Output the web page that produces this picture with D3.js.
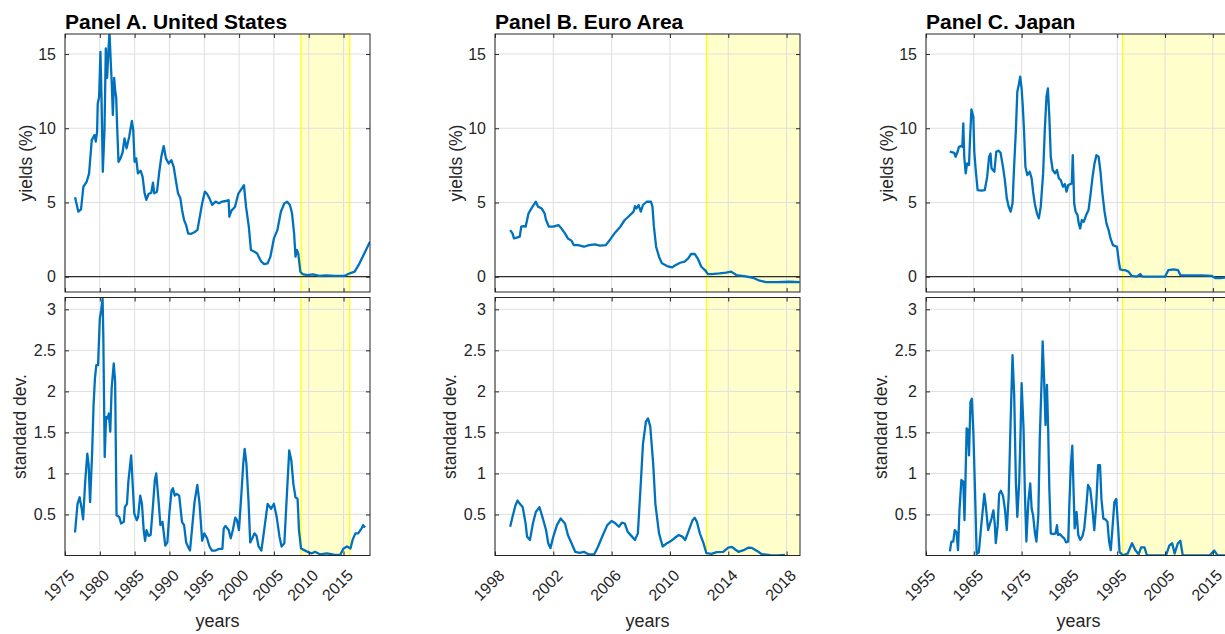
<!DOCTYPE html>
<html>
<head>
<meta charset="utf-8">
<script src="https://cdnjs.cloudflare.com/ajax/libs/d3/7.8.5/d3.min.js"></script>
<style>
body { margin: 0; background: #fff; overflow: hidden; }
text { font-family: "Liberation Sans", Arial, Helvetica, sans-serif; fill: #262626; }
</style>
</head>
<body>
<script>
// ---- data: [year, value] ----
var usYield = [
  [1976.44,5.35],[1976.92,4.38],[1977.3,4.53],[1977.64,6.06],[1978.12,6.4],[1978.46,6.96],
  [1978.84,9.2],[1979.23,9.54],[1979.42,9.1],[1979.61,9.77],[1979.7,11.67],[1979.9,12.1],
  [1980.09,15.15],[1980.24,12.1],[1980.43,7.07],[1980.67,9.87],[1980.86,15.38],[1981.05,13.4],
  [1981.24,15.27],[1981.39,16.5],[1981.58,14.36],[1981.72,13.0],[1981.87,10.9],[1982.06,13.4],
  [1982.2,12.57],[1982.35,12.1],[1982.49,10.1],[1982.68,7.74],[1982.97,7.97],[1983.26,8.35],
  [1983.55,9.32],[1983.84,8.65],[1984.22,9.43],[1984.6,10.5],[1984.8,9.88],[1984.99,7.74],
  [1985.23,7.97],[1985.47,6.96],[1985.85,7.14],[1986.14,6.74],[1986.43,5.62],[1986.67,5.18],
  [1987.0,5.57],[1987.39,5.66],[1987.63,6.33],[1987.82,5.62],[1988.21,5.73],[1988.54,7.07],
  [1988.83,8.08],[1989.17,8.8],[1989.5,7.97],[1989.89,7.63],[1990.27,7.85],[1990.61,7.4],
  [1990.95,6.4],[1991.23,5.62],[1991.57,5.28],[1991.81,4.5],[1992.1,3.81],[1992.39,3.48],
  [1992.68,2.92],[1993.06,2.88],[1993.64,3.01],[1994.02,3.15],[1994.4,4.15],[1994.69,4.93],
  [1995.08,5.73],[1995.41,5.57],[1995.75,5.28],[1996.13,4.84],[1996.61,5.06],[1997.1,4.95],
  [1997.57,5.06],[1998.05,5.1],[1998.5,5.16],[1998.6,4.04],[1998.9,4.45],[1999.4,4.7],
  [1999.9,5.6],[2000.4,5.95],[2000.7,6.17],[2001.0,4.7],[2001.4,3.36],[2001.7,1.8],
  [2002.2,1.68],[2002.6,1.57],[2002.8,1.35],[2003.2,1.01],[2003.6,0.85],[2004.1,0.9],
  [2004.5,1.35],[2005.0,2.58],[2005.5,3.14],[2006.0,4.38],[2006.5,4.94],[2006.9,5.05],
  [2007.3,4.83],[2007.6,4.27],[2007.9,2.92],[2008.1,1.35],[2008.3,1.8],[2008.5,1.57],
  [2008.8,0.34],[2009.1,0.18],[2009.8,0.11],[2010.6,0.16],[2011.5,0.05],[2012.5,0.09],
  [2013.7,0.05],[2015.1,0.05],[2015.9,0.23],[2016.6,0.34],[2017.3,0.9],[2018.1,1.68],[2018.8,2.36]
];
var usSd = [
  [1976.44,0.28],[1976.8,0.63],[1977.1,0.71],[1977.4,0.57],[1977.6,0.44],[1977.9,0.9],
  [1978.2,1.24],[1978.4,1.1],[1978.6,0.65],[1978.9,1.26],[1979.1,1.83],[1979.3,2.16],
  [1979.5,2.32],[1979.75,2.32],[1980.0,2.89],[1980.2,2.99],[1980.4,3.13],[1980.5,2.69],
  [1980.7,1.2],[1980.9,1.69],[1981.1,1.67],[1981.3,1.73],[1981.5,1.51],[1981.7,2.04],
  [1982.0,2.34],[1982.2,2.12],[1982.4,0.49],[1982.8,0.47],[1983.05,0.39],[1983.45,0.41],
  [1983.6,0.59],[1983.9,0.63],[1984.1,0.9],[1984.5,1.22],[1984.75,0.82],[1984.95,0.51],
  [1985.3,0.43],[1985.5,0.47],[1985.8,0.73],[1986.05,0.63],[1986.3,0.31],[1986.5,0.18],
  [1986.7,0.31],[1987.0,0.24],[1987.3,0.25],[1987.6,0.57],[1987.9,0.92],[1988.1,1.0],
  [1988.45,0.65],[1988.7,0.37],[1989.0,0.41],[1989.4,0.12],[1989.7,0.16],[1990.0,0.53],
  [1990.3,0.79],[1990.5,0.82],[1990.75,0.73],[1991.05,0.75],[1991.4,0.73],[1991.8,0.41],
  [1992.1,0.37],[1992.4,0.16],[1992.7,0.1],[1992.95,0.06],[1993.25,0.33],[1993.6,0.65],
  [1994.0,0.86],[1994.3,0.65],[1994.7,0.18],[1995.0,0.27],[1995.4,0.21],[1995.75,0.11],
  [1996.1,0.06],[1996.6,0.06],[1997.1,0.08],[1997.6,0.08],[1997.8,0.33],[1998.05,0.36],
  [1998.5,0.31],[1998.8,0.21],[1999.1,0.31],[1999.45,0.46],[1999.7,0.43],[1999.98,0.31],
  [2000.3,0.71],[2000.6,1.12],[2000.8,1.3],[2001.05,1.12],[2001.35,0.67],[2001.6,0.16],
  [2001.9,0.21],[2002.2,0.27],[2002.5,0.24],[2002.8,0.11],[2003.2,0.06],[2003.6,0.31],
  [2004.1,0.63],[2004.6,0.57],[2005.0,0.63],[2005.4,0.47],[2005.8,0.23],[2006.1,0.11],
  [2006.5,0.15],[2006.9,0.8],[2007.2,1.28],[2007.5,1.16],[2007.8,0.87],[2008.1,0.71],
  [2008.4,0.69],[2008.6,0.31],[2008.9,0.085],[2009.7,0.05],[2010.4,0.025],[2010.9,0.045],
  [2011.6,0.015],[2012.6,0.025],[2013.6,0.01],[2014.5,0.005],[2015.0,0.085],[2015.5,0.11],
  [2016.0,0.085],[2016.3,0.19],[2016.7,0.27],[2017.1,0.27],[2017.6,0.33],[2017.8,0.37],[2018.1,0.34]
];
var euYield = [
  [1999.04,3.14],[1999.2,2.92],[1999.3,2.58],[1999.55,2.65],[1999.7,2.7],[1999.8,3.37],
  [1999.95,3.41],[2000.1,3.37],[2000.3,4.27],[2000.5,4.6],[2000.8,5.05],[2000.95,4.72],
  [2001.2,4.6],[2001.4,4.27],[2001.5,3.82],[2001.7,3.37],[2002.0,3.37],[2002.35,3.48],
  [2002.55,3.26],[2002.8,2.92],[2003.0,2.58],[2003.25,2.43],[2003.4,2.13],[2003.7,2.13],
  [2004.1,2.02],[2004.45,2.13],[2004.85,2.18],[2005.2,2.09],[2005.6,2.13],[2005.9,2.51],
  [2006.2,2.92],[2006.6,3.37],[2006.9,3.82],[2007.2,4.09],[2007.5,4.38],[2007.6,4.76],
  [2007.7,4.6],[2007.85,4.83],[2008.0,4.38],[2008.15,4.83],[2008.4,5.05],[2008.7,5.05],
  [2008.8,4.72],[2008.9,3.37],[2009.05,2.02],[2009.25,1.35],[2009.45,0.9],[2009.8,0.72],
  [2010.15,0.63],[2010.4,0.79],[2010.7,0.94],[2011.0,1.01],[2011.25,1.24],[2011.45,1.53],
  [2011.7,1.53],[2011.9,1.24],[2012.15,0.67],[2012.4,0.45],[2012.6,0.18],[2012.85,0.18],
  [2013.4,0.22],[2013.85,0.27],[2014.2,0.34],[2014.55,0.11],[2015.1,0.045],[2015.7,-0.07],
  [2016.15,-0.27],[2016.6,-0.36],[2017.3,-0.36],[2018.2,-0.34],[2018.9,-0.36]
];
var euSd = [
  [1999.04,0.35],[1999.2,0.47],[1999.4,0.61],[1999.55,0.67],[1999.7,0.63],[1999.9,0.59],
  [2000.1,0.39],[2000.2,0.23],[2000.4,0.19],[2000.6,0.39],[2000.8,0.53],[2001.05,0.59],
  [2001.25,0.47],[2001.5,0.31],[2001.65,0.15],[2001.8,0.09],[2002.0,0.23],[2002.25,0.37],
  [2002.5,0.45],[2002.8,0.39],[2003.0,0.25],[2003.25,0.15],[2003.5,0.045],[2003.8,0.033],
  [2004.1,0.045],[2004.4,0.016],[2004.8,0.012],[2005.05,0.1],[2005.4,0.25],[2005.7,0.37],
  [2006.0,0.42],[2006.2,0.4],[2006.5,0.35],[2006.7,0.4],[2006.9,0.39],[2007.1,0.29],
  [2007.4,0.23],[2007.6,0.19],[2007.8,0.27],[2008.0,0.88],[2008.15,1.36],[2008.35,1.63],
  [2008.5,1.67],[2008.65,1.57],[2008.85,1.12],[2009.0,0.63],[2009.25,0.27],[2009.5,0.11],
  [2009.8,0.15],[2010.1,0.18],[2010.3,0.21],[2010.6,0.25],[2010.85,0.23],[2011.05,0.19],
  [2011.3,0.31],[2011.55,0.43],[2011.7,0.46],[2011.85,0.41],[2012.05,0.27],[2012.3,0.15],
  [2012.5,0.028],[2012.85,0.02],[2013.2,0.04],[2013.65,0.045],[2014.0,0.097],[2014.25,0.105],
  [2014.5,0.07],[2014.7,0.045],[2015.05,0.065],[2015.4,0.097],[2015.6,0.093],[2016.0,0.053],
  [2016.3,0.016],[2016.9,0.004],[2017.4,0.0],[2017.9,0.008]
];
var jpYield = [
  [1959.98,8.42],[1960.9,8.35],[1961.2,8.08],[1961.6,8.42],[1961.9,8.75],[1962.3,8.8],
  [1962.6,8.75],[1962.8,10.33],[1963.0,8.08],[1963.3,6.96],[1963.6,7.63],[1964.0,7.52],
  [1964.2,9.2],[1964.5,11.27],[1964.9,10.78],[1965.1,8.42],[1965.4,7.19],[1965.8,5.84],
  [1966.6,5.8],[1967.3,5.84],[1967.8,6.74],[1968.2,8.08],[1968.5,8.3],[1968.7,7.3],
  [1969.3,7.07],[1969.7,8.42],[1970.2,8.49],[1970.6,8.35],[1971.1,7.4],[1971.5,6.51],
  [1971.9,5.28],[1972.3,4.71],[1972.7,4.38],[1973.1,4.93],[1973.4,7.19],[1973.8,9.88],
  [1974.1,12.46],[1974.4,12.91],[1974.7,13.47],[1975.0,12.68],[1975.25,11.45],[1975.5,9.88],
  [1975.8,7.4],[1976.2,6.84],[1976.7,7.07],[1977.1,6.62],[1977.4,5.73],[1977.75,4.93],
  [1978.2,4.27],[1978.6,3.93],[1979.0,4.72],[1979.5,6.96],[1979.85,9.88],[1980.2,12.12],
  [1980.5,12.68],[1980.8,10.78],[1981.1,8.08],[1981.5,7.19],[1982.0,6.96],[1982.4,7.19],
  [1982.8,6.62],[1983.2,6.51],[1983.65,6.06],[1984.05,6.24],[1984.4,5.73],[1984.75,6.17],
  [1985.2,6.24],[1985.5,6.28],[1985.7,8.19],[1986.0,4.93],[1986.3,4.38],[1986.7,4.15],
  [1986.95,3.59],[1987.25,3.25],[1987.6,3.82],[1988.0,3.7],[1988.5,4.15],[1989.0,4.49],
  [1989.4,5.5],[1989.85,6.74],[1990.25,7.63],[1990.65,8.19],[1991.1,8.08],[1991.5,7.07],
  [1991.9,5.62],[1992.35,4.38],[1992.75,3.59],[1993.2,3.14],[1993.6,2.58],[1994.1,2.13],
  [1994.6,2.06],[1994.95,2.02],[1995.3,1.12],[1995.6,0.5],[1996.2,0.45],[1996.6,0.45],
  [1997.35,0.34],[1998.05,0.05],[1999.1,0.0],[1999.8,0.18],[2000.3,0.0],[2001.5,0.0],
  [2005.0,0.0],[2005.7,0.45],[2006.8,0.5],[2007.7,0.45],[2008.2,0.11],[2009.9,0.09],
  [2012.7,0.09],[2014.8,0.05],[2015.5,-0.09],[2016.6,-0.09],[2017.6,-0.06],[2018.8,-0.06]
];
var jpSd = [
  [1960.0,0.05],[1960.3,0.17],[1960.7,0.17],[1961.0,0.31],[1961.4,0.28],[1961.7,0.065],
  [1962.0,0.55],[1962.4,0.92],[1962.8,0.9],[1963.05,0.43],[1963.25,0.9],[1963.5,1.55],
  [1963.8,1.53],[1964.0,1.22],[1964.3,1.87],[1964.6,1.91],[1964.9,1.51],[1965.2,0.9],
  [1965.6,0.02],[1966.05,0.04],[1966.5,0.33],[1966.8,0.51],[1967.2,0.75],[1967.5,0.61],
  [1968.0,0.31],[1968.3,0.37],[1968.7,0.45],[1969.1,0.55],[1969.4,0.37],[1969.6,0.15],
  [1970.0,0.37],[1970.3,0.75],[1970.65,0.79],[1971.1,0.73],[1971.5,0.57],[1971.9,0.31],
  [1972.3,0.73],[1972.7,1.63],[1973.1,2.44],[1973.45,1.95],[1973.8,0.9],[1974.1,0.47],
  [1974.5,0.9],[1974.8,1.55],[1975.0,2.1],[1975.4,1.55],[1975.7,0.73],[1976.0,0.17],
  [1976.4,0.65],[1976.8,0.88],[1977.1,0.57],[1977.4,0.49],[1977.8,0.27],[1978.1,0.17],
  [1978.5,0.49],[1978.8,1.43],[1979.2,2.16],[1979.4,2.61],[1979.7,2.16],[1980.0,1.59],
  [1980.3,2.08],[1980.55,1.55],[1980.8,0.81],[1981.1,0.27],[1981.6,0.26],[1982.1,0.27],
  [1982.4,0.37],[1982.6,0.25],[1983.05,0.26],[1983.5,0.23],[1983.9,0.21],[1984.3,0.16],
  [1984.75,0.17],[1985.0,0.65],[1985.3,1.1],[1985.6,1.34],[1985.9,0.73],[1986.1,0.33],
  [1986.5,0.53],[1986.85,0.25],[1987.25,0.19],[1987.7,0.23],[1988.1,0.33],[1988.5,0.57],
  [1988.9,0.86],[1989.35,0.81],[1989.75,0.61],[1990.2,0.31],[1990.6,0.61],[1991.0,1.1],
  [1991.4,1.1],[1991.7,0.69],[1992.1,0.45],[1992.55,0.44],[1992.95,0.41],[1993.3,0.17],
  [1993.65,0.065],[1994.0,0.33],[1994.4,0.65],[1994.8,0.69],[1995.2,0.33],[1995.5,0.04],
  [1996.2,0.003],[1997.2,0.024],[1998.1,0.15],[1998.8,0.065],[1999.5,0.016],[2000.0,0.1],
  [2000.7,0.1],[2001.2,0.003],[2003.8,0.0],[2005.2,0.0],[2005.9,0.12],[2006.5,0.15],
  [2007.0,0.024],[2007.7,0.15],[2008.2,0.18],[2008.7,0.003],[2010.8,0.0],[2014.3,0.0],
  [2015.3,0.06],[2016.0,0.0],[2018.8,0.0]
];

var titles = ["Panel A. United States", "Panel B. Euro Area", "Panel C. Japan"];
var xDomains = [[1975, 2018.8], [1998, 2018.92], [1955, 2018.8]];
var xTicks = [d3.range(1975, 2016, 5), d3.range(1998, 2019, 4), d3.range(1955, 2016, 10)];
var shades = [[2008.9, 2015.9], [2012.5, 2018.92], [1996.1, 2018.8]];
var yieldTicks = [0, 5, 10, 15];
var sdTicks = [0.5, 1, 1.5, 2, 2.5, 3];
var yieldSeries = [usYield, euYield, jpYield];
var sdSeries = [usSd, euSd, jpSd];

var W = 1225, H = 634;
var panelLeft = [65, 495, 926], panelW = 305;
var topBox = [34, 292], botBox = [297.5, 555.5];
var blue = "#0072bd", axisCol = "#262626", gridCol = "#dfdfdf";

var svg = d3.select("body").append("svg")
  .attr("width", W).attr("height", H);

var clipId = 0;

function drawAxes(g, x, y, xt, yt, shade, data, box, opts) {
  var x0 = x.range()[0], x1 = x.range()[1];
  var yb = box[1], yt0 = box[0];
  var id = "clip" + (clipId++);
  g.append("clipPath").attr("id", id).append("rect")
    .attr("x", x0).attr("y", yt0).attr("width", x1 - x0).attr("height", yb - yt0);

  // shaded period
  var sx0 = x(shade[0]), sx1 = Math.min(x(shade[1]), x1);
  g.append("rect").attr("x", sx0).attr("y", yt0).attr("width", sx1 - sx0).attr("height", yb - yt0)
    .attr("fill", "#ffffcc");

  // grid
  g.selectAll(null).data(xt).enter().append("line")
    .attr("x1", d => x(d)).attr("x2", d => x(d)).attr("y1", yt0).attr("y2", yb)
    .attr("stroke", gridCol).attr("stroke-width", 1);
  g.selectAll(null).data(yt).enter().append("line")
    .attr("x1", x0).attr("x2", x1).attr("y1", d => y(d)).attr("y2", d => y(d))
    .attr("stroke", gridCol).attr("stroke-width", 1);

  // shade edges
  g.append("line").attr("x1", sx0).attr("x2", sx0).attr("y1", yt0).attr("y2", yb)
    .attr("stroke", "#ffff00").attr("stroke-width", 1.2);
  if (x(shade[1]) < x1 - 1) {
    g.append("line").attr("x1", sx1).attr("x2", sx1).attr("y1", yt0).attr("y2", yb)
      .attr("stroke", "#ffff00").attr("stroke-width", 1.2);
  }

  if (opts.zero) {
    g.append("line").attr("x1", x0).attr("x2", x1).attr("y1", y(0)).attr("y2", y(0))
      .attr("stroke", "#000").attr("stroke-width", 1);
  }

  var line = d3.line().x(d => x(d[0])).y(d => y(d[1]));
  g.append("path").datum(data).attr("clip-path", "url(#" + id + ")")
    .attr("d", line).attr("fill", "none").attr("stroke", blue)
    .attr("stroke-width", 2.3).attr("stroke-linejoin", "round");

  // axes with inward ticks on all sides
  var tl = 4;
  var xb = g.append("g").attr("transform", "translate(0," + yb + ")")
    .call(d3.axisBottom(x).tickValues(xt).tickSize(-tl).tickFormat(opts.xlabels ? d3.format("d") : ""))
    .call(a => a.select(".domain").remove());
  g.append("g").attr("transform", "translate(0," + yt0 + ")")
    .call(d3.axisTop(x).tickValues(xt).tickSize(-tl).tickFormat(""))
    .call(a => a.select(".domain").remove());
  g.append("g").attr("transform", "translate(" + x0 + ",0)")
    .call(d3.axisLeft(y).tickValues(yt).tickSize(-tl).tickPadding(9).tickFormat(d3.format("")))
    .call(a => a.select(".domain").remove());
  g.append("g").attr("transform", "translate(" + x1 + ",0)")
    .call(d3.axisRight(y).tickValues(yt).tickSize(-tl).tickFormat(""))
    .call(a => a.select(".domain").remove());

  g.selectAll(".tick line").attr("stroke", axisCol);
  g.selectAll(".tick text").attr("fill", axisCol).style("font-size", "16px")
    .style("font-family", "'Liberation Sans', Arial, sans-serif");

  if (opts.xlabels) {
    // rotated year labels, end of text just below-right of the tick
    xb.selectAll(".tick text")
      .attr("x", 0).attr("y", 0).attr("dy", 0)
      .attr("text-anchor", "end")
      .attr("transform", "translate(10,21) rotate(-45)");
  }

  g.append("rect").attr("x", x0).attr("y", yt0).attr("width", x1 - x0).attr("height", yb - yt0)
    .attr("fill", "none").attr("stroke", axisCol).attr("stroke-width", 1);
}

for (var p = 0; p < 3; p++) {
  var L = panelLeft[p];
  var x = d3.scaleLinear().domain(xDomains[p]).range([L, L + panelW]);
  var yTop = d3.scaleLinear().domain([-1.03, 16.35]).range([topBox[1], topBox[0]]);
  var yBot = d3.scaleLinear().domain([0, 3.144]).range([botBox[1], botBox[0]]);

  drawAxes(svg.append("g"), x, yTop, xTicks[p], yieldTicks, shades[p], yieldSeries[p], topBox, {zero: true});
  drawAxes(svg.append("g"), x, yBot, xTicks[p], sdTicks, shades[p], sdSeries[p], botBox, {xlabels: true});

  svg.append("text").attr("x", L).attr("y", 29)
    .style("font-size", "21px").style("font-weight", "bold").style("fill", "#000")
    .text(titles[p]);

  svg.append("text")
    .attr("transform", "translate(" + (L - 33) + "," + ((topBox[0] + topBox[1]) / 2) + ") rotate(-90)")
    .attr("text-anchor", "middle").style("font-size", "17.5px").text("yields (%)");
  svg.append("text")
    .attr("transform", "translate(" + (L - 39.5) + "," + ((botBox[0] + botBox[1]) / 2) + ") rotate(-90)")
    .attr("text-anchor", "middle").style("font-size", "17.5px").text("standard dev.");
  svg.append("text").attr("x", L + panelW / 2).attr("y", 627)
    .attr("text-anchor", "middle").style("font-size", "18px").text("years");
}
</script>
</body>
</html>
